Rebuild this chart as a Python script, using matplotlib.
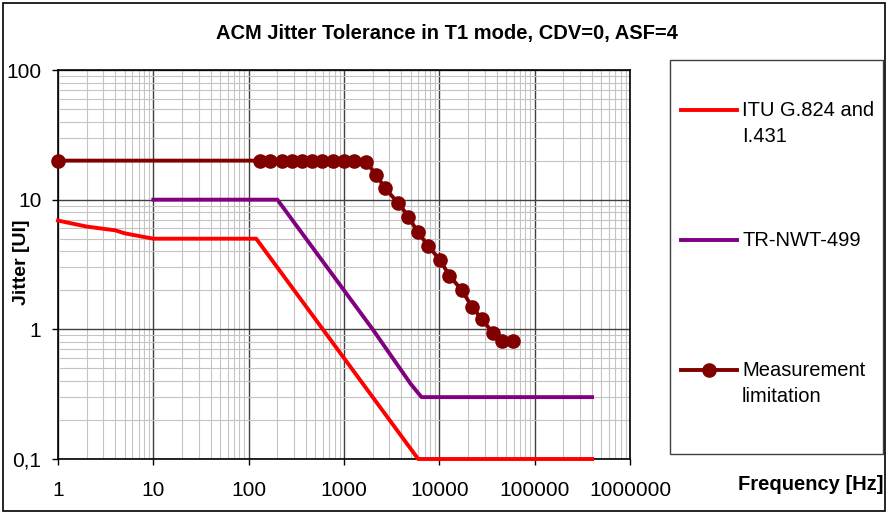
import matplotlib
matplotlib.use("Agg")
import matplotlib.pyplot as plt
import matplotlib.patches as mpatches
from matplotlib.lines import Line2D
from matplotlib.ticker import LogLocator, NullFormatter

plt.rcParams["font.family"] = ["Liberation Sans", "DejaVu Sans"]

# ITU G.824 and I.431 mask
itu_freq = [1, 2, 4, 5, 10, 120, 400, 1000, 2000, 6000, 400000]
itu_jitter = [6.9, 6.2, 5.8, 5.5, 5.0, 5.0, 1.5, 0.6, 0.3, 0.1, 0.1]

# TR-NWT-499 mask
tr_freq = [10, 200, 400, 1000, 2000, 5000, 6500, 400000]
tr_jitter = [10, 10, 5.0, 2.0, 1.0, 0.38, 0.3, 0.3]

# measurement limitation
meas_freq = [1, 132, 168, 222, 283, 361, 459, 585, 774, 1010, 1285,
             1706, 2172, 2699, 3724, 4742, 5946, 7685, 10190, 12760,
             17220, 21930, 27920, 36400, 45300, 59900]
meas_jitter = [20, 20, 20, 20, 20, 20, 20, 20, 20, 20, 20,
               19.5, 15.6, 12.2, 9.4, 7.4, 5.6, 4.4, 3.4, 2.6,
               2.0, 1.5, 1.2, 0.94, 0.81, 0.81]

series = [
    ("ITU G.824 and\nI.431", itu_freq, itu_jitter, "#ff0000", None),
    ("TR-NWT-499", tr_freq, tr_jitter, "#800080", None),
    ("Measurement\nlimitation", meas_freq, meas_jitter, "#800000", "o"),
]

W, H = 888, 513
fig = plt.figure(figsize=(W / 100, H / 100), dpi=100)
ax = fig.add_axes([58 / W, 1 - 459 / H, (630 - 58) / W, (459 - 70) / H])

for label, f, j, color, marker in series:
    ax.plot(f, j, color=color, lw=2.8, marker=marker, markersize=9.5,
            clip_on=False, zorder=3)

ax.set_xscale("log")
ax.set_yscale("log")
ax.set_xlim(1, 1e6)
ax.set_ylim(0.1, 100)

xt = [1, 10, 100, 1000, 10000, 100000, 1000000]
ax.set_xticks(xt)
ax.set_xticklabels([str(v) for v in xt])
yt = [0.1, 1, 10, 100]
ax.set_yticks(yt)
ax.set_yticklabels(["0,1", "1", "10", "100"])
ax.xaxis.set_minor_locator(LogLocator(base=10, subs=range(2, 10), numticks=20))
ax.yaxis.set_minor_locator(LogLocator(base=10, subs=range(2, 10), numticks=20))
ax.xaxis.set_minor_formatter(NullFormatter())
ax.yaxis.set_minor_formatter(NullFormatter())

ax.grid(which="minor", color="#c4c4c4", lw=0.8)
ax.grid(which="major", color="#404040", lw=1.0)
ax.set_axisbelow(True)
ax.tick_params(which="major", direction="out", length=4, width=1, labelsize=15, color="black")
ax.tick_params(axis="x", which="major", pad=12)
ax.tick_params(axis="y", which="major", pad=8)
ax.tick_params(which="minor", length=0)
for sp in ax.spines.values():
    sp.set_color("black")
    sp.set_linewidth(1.2)

fig.text(447 / W, 1 - 33 / H, "ACM Jitter Tolerance in T1 mode, CDV=0, ASF=4",
         ha="center", va="center", fontsize=14.5, fontweight="bold")
fig.text(22 / W, 1 - 262 / H, "Jitter [UI]", rotation=90, ha="center", va="center",
         fontsize=14, fontweight="bold")
fig.text(883 / W, 1 - 484 / H, "Frequency [Hz]", ha="right", va="center",
         fontsize=14.5, fontweight="bold")

# legend box drawn by hand, to the right of the plot
fig.patches.append(mpatches.Rectangle((670 / W, 1 - 454 / H), (883 - 670) / W, (454 - 60) / H,
                                      transform=fig.transFigure, fill=False,
                                      edgecolor="#404040", lw=1.0))
for (label, f, j, color, marker), ypix in zip(series, [110, 240, 370]):
    yy = 1 - ypix / H
    fig.add_artist(Line2D([681 / W, 737 / W], [yy, yy], color=color, lw=2.8))
    if marker:
        fig.add_artist(Line2D([709 / W], [yy], color=color, marker=marker, markersize=9.5))
    fig.text(742 / W, 1 - (ypix - 9) / H, label, ha="left", va="top",
             fontsize=14.5, linespacing=1.5)

# outer chart border
fig.patches.append(mpatches.Rectangle((3 / W, 2 / H), (885 - 3) / W, (510 - 2) / H,
                                      transform=fig.transFigure, fill=False,
                                      edgecolor="black", lw=1.2))

fig.savefig("out.png", dpi=100)
